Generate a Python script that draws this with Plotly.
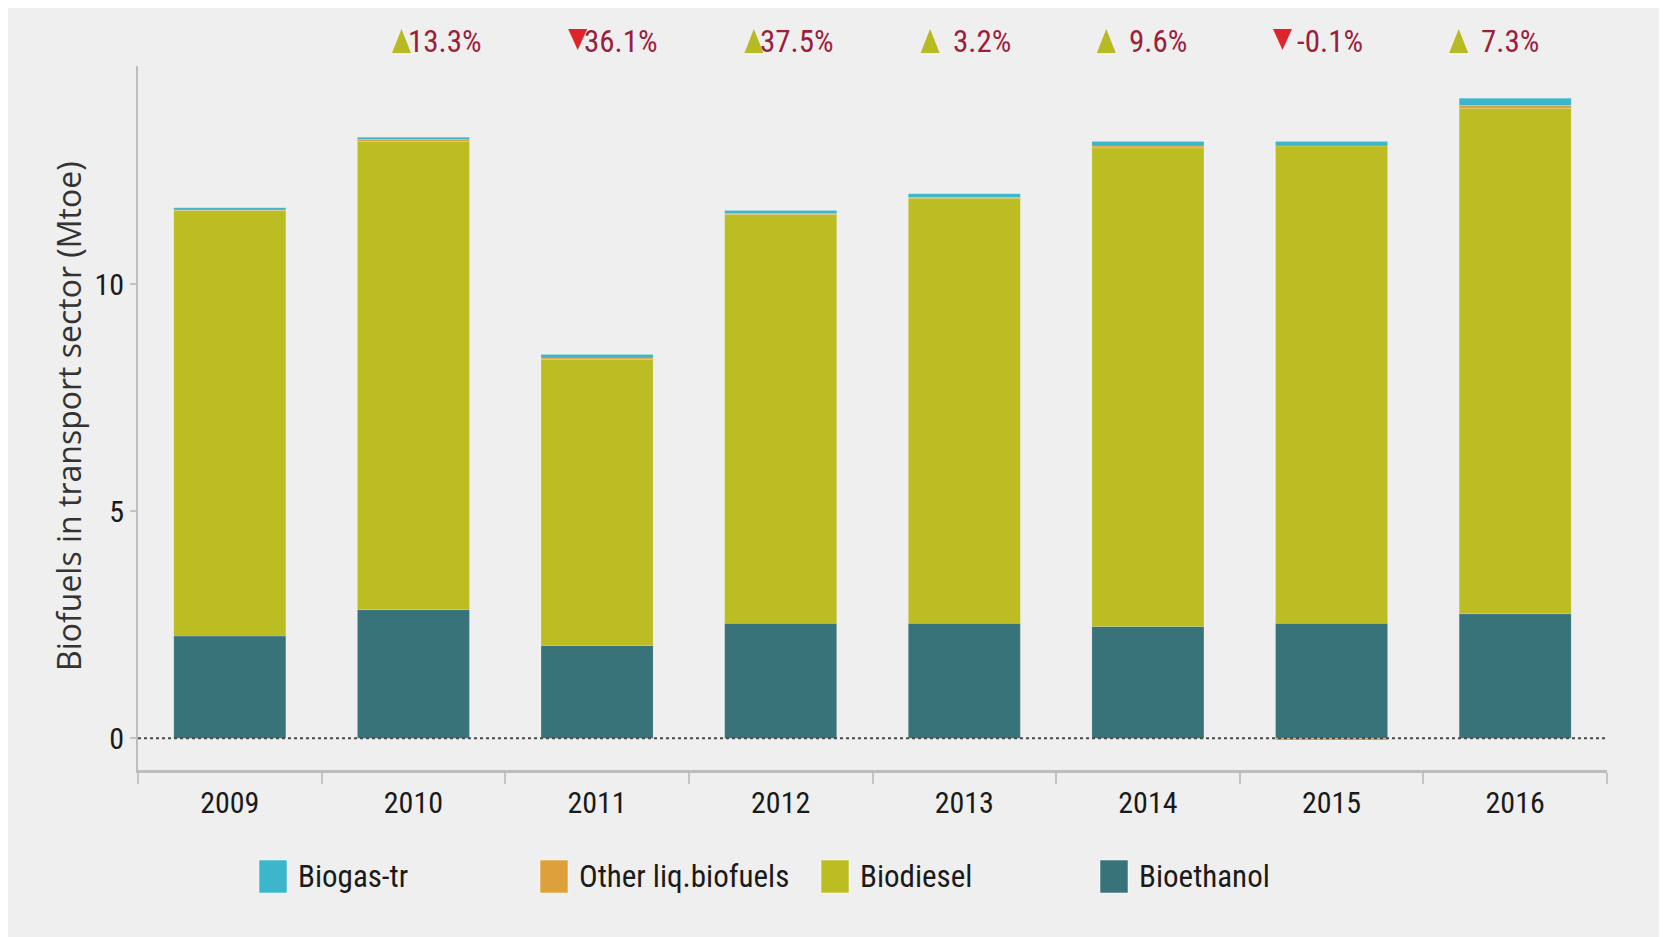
"""
Biofuels in transport sector - stacked bars with year-on-year change markers
"""
import plotly.graph_objects as go

# Data (Mtoe)
years = ["2009", "2010", "2011", "2012", "2013", "2014", "2015", "2016"]
bioethanol = [2.25, 2.83, 2.04, 2.53, 2.53, 2.46, 2.53, 2.74]
biodiesel = [9.37, 10.31, 6.30, 9.00, 9.36, 10.54, 10.51, 11.13]
other_liq = [0.01, 0.04, 0.03, 0.02, 0.02, 0.04, -0.04, 0.06]
biogas = [0.05, 0.05, 0.08, 0.07, 0.08, 0.10, 0.10, 0.16]

# Year-on-year change of the total (labels above the chart)
change_labels = ["13.3%", "36.1%", "37.5%", "3.2%", "9.6%", "-0.1%", "7.3%"]
change_up = [True, False, True, True, True, False, True]

# Series in stacking order (bottom first)
series = [
    ("Bioethanol", bioethanol, "#38737a"),
    ("Biodiesel", biodiesel, "#bcbd23"),
    ("Other liq.biofuels", other_liq, "#dea03a"),
    ("Biogas-tr", biogas, "#3cb6cb"),
]

W, H = 1667, 937
ML, MR, MT, MB = 130, 68, 58, 175
PW, PH = W - ML - MR, H - MT - MB
PAGE = 8  # body margin of the html page
NARROW = "Liberation Sans Narrow, Arial Narrow, Roboto Condensed, sans-serif"


# Helpers: screen pixel position -> paper coordinates
def px(x):
    return (x - PAGE - ML) / PW


def py(y):
    return (H - MB - (y - PAGE)) / PH


fig = go.Figure()

for name, values, color in series:
    fig.add_trace(go.Bar(
        x=years,
        y=values,
        name=name,
        marker=dict(color=color, line=dict(color="rgba(255,255,255,0.3)", width=0.5)),
        showlegend=False,
    ))

shapes = []
annotations = []

# Dotted zero line
shapes.append(dict(type="line", xref="paper", yref="y", layer="above",
                   x0=0, x1=1, y0=0, y1=0,
                   line=dict(color="#4a4a4a", width=2, dash="dot")))

# Change markers: triangle + value, laid out on an even grid
tri_left, step, text_right = 392, 176.2, 484
for i, (label, up) in enumerate(zip(change_labels, change_up)):
    x0 = tri_left + i * step
    top, bottom = 29, 53
    if up:
        path = (f"M {px(x0)},{py(bottom)} L {px(x0 + 19)},{py(bottom)} "
                f"L {px(x0 + 9.5)},{py(top)} Z")
        col = "#b8ba23"
    else:
        path = (f"M {px(x0)},{py(top)} L {px(x0 + 19)},{py(top)} "
                f"L {px(x0 + 9.5)},{py(bottom - 3)} Z")
        col = "#e0242c"
    shapes.append(dict(type="path", xref="paper", yref="paper", path=path,
                       fillcolor=col, line=dict(width=0)))
    annotations.append(dict(
        xref="paper", yref="paper", x=px(text_right + i * step), y=py(42),
        xanchor="right", yanchor="middle", showarrow=False, text=label,
        font=dict(family=NARROW, size=31, color="#9c1f3a"),
    ))

# Legend drawn by hand (large swatches), same order as the original
legend_x = [259, 540, 821, 1100]
for (name, _, color), lx in zip(reversed(series), legend_x):
    shapes.append(dict(type="rect", xref="paper", yref="paper",
                       x0=px(lx), x1=px(lx + 28), y0=py(893), y1=py(860),
                       fillcolor=color, line=dict(color="rgba(255,255,255,0.5)", width=1)))
    annotations.append(dict(
        xref="paper", yref="paper", x=px(lx + 37), y=py(877),
        xanchor="left", yanchor="middle", showarrow=False, text=name,
        font=dict(family=NARROW, size=31, color="#1a1a1a"),
    ))

# Y axis title
annotations.append(dict(
    xref="paper", yref="paper", x=px(68), y=py(416),
    xanchor="center", yanchor="middle", textangle=-90, showarrow=False,
    text="Biofuels in transport sector (Mtoe)",
    font=dict(family="Open Sans, sans-serif", size=32, color="#333333"),
))

fig.update_layout(
    barmode="relative",
    bargap=0.39,
    width=W,
    height=H,
    margin=dict(l=ML, r=MR, t=MT, b=MB, pad=0),
    paper_bgcolor="#efefef",
    plot_bgcolor="#efefef",
    shapes=shapes,
    annotations=annotations,
    xaxis=dict(
        type="category",
        tickson="boundaries",
        ticks="outside",
        ticklen=11,
        tickwidth=1.5,
        tickcolor="#c4c4c4",
        showline=True,
        linecolor="#bdbdbd",
        linewidth=3,
        showgrid=False,
        ticklabelstandoff=4,
        tickfont=dict(family=NARROW, size=30, color="#1a1a1a"),
    ),
    yaxis=dict(
        range=[-0.7, 14.8],
        tickvals=[0, 5, 10],
        ticks="outside",
        ticklen=6,
        tickwidth=1.5,
        tickcolor="#c4c4c4",
        showline=True,
        linecolor="#bdbdbd",
        linewidth=2,
        showgrid=False,
        zeroline=False,
        tickfont=dict(family=NARROW, size=30, color="#1a1a1a"),
    ),
)

fig.write_html("out.html")
